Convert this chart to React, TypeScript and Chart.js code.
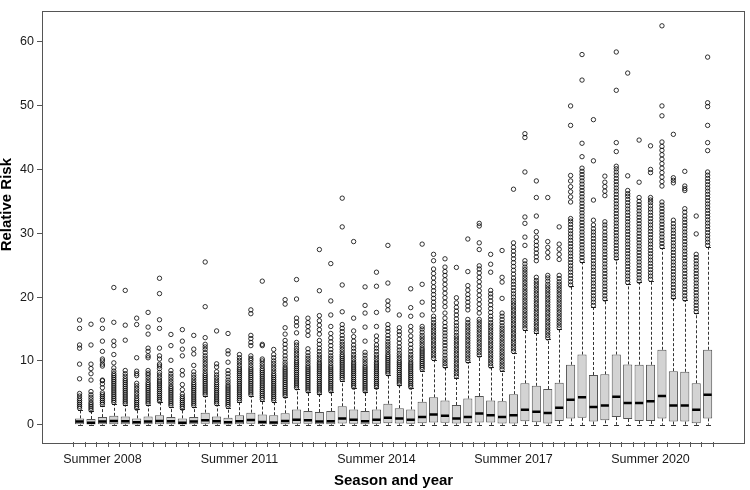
import React, { useEffect, useRef } from "react";
import { Chart, registerables } from "chart.js";

Chart.register(...registerables);

const seasons = ["Winter", "Spring", "Summer", "Autumn"];
const years = [2008, 2009, 2010, 2011, 2012, 2013, 2014, 2015, 2016, 2017, 2018, 2019, 2020, 2021];
const categories: string[] = years.flatMap((yr) => seasons.map((s) => `${s} ${yr}`));
const tickLabels = ["Summer 2008", "Summer 2011", "Summer 2014", "Summer 2017", "Summer 2020"];
const yTicks = [0, 10, 20, 30, 40, 50, 60];
const xTitle = "Season and year";
const yTitle = "Relative Risk";

const lowerQuartile = [
  0.1, 0.05, 0.1, 0.1, 0.1, 0.05, 0.1, 0.1, 0.1, 0.05, 0.1, 0.15, 0.1, 0.05, 0.1, 0.15,
  0.1, 0.05, 0.1, 0.15, 0.15, 0.1, 0.1, 0.2, 0.15, 0.1, 0.15, 0.25, 0.2, 0.15, 0.25, 0.35,
  0.3, 0.2, 0.25, 0.35, 0.35, 0.2, 0.2, 0.55, 0.4, 0.2, 0.6, 1.0, 1.1, 0.5, 0.7, 1.2,
  0.9, 0.6, 0.6, 1.0, 0.5, 0.5, 0.25, 1.0,
];
const median = [
  0.5, 0.3, 0.5, 0.6, 0.55, 0.4, 0.5, 0.6, 0.55, 0.3, 0.5, 0.7, 0.55, 0.4, 0.55, 0.75,
  0.45, 0.35, 0.6, 0.8, 0.7, 0.5, 0.55, 0.97, 0.8, 0.55, 0.8, 1.1, 1.0, 0.8, 1.2, 1.6,
  1.4, 1.0, 1.2, 1.75, 1.5, 1.2, 1.5, 2.35, 2.05, 1.85, 2.65, 3.9, 4.3, 2.8, 3.0, 4.4,
  3.4, 3.4, 3.7, 4.5, 3.0, 3.0, 2.35, 4.7,
];
const upperQuartile = [
  1.0, 0.9, 1.2, 1.4, 1.3, 1.0, 1.3, 1.5, 1.2, 1.0, 1.2, 1.9, 1.3, 1.1, 1.5, 1.9,
  1.6, 1.5, 1.8, 2.4, 2.15, 2.0, 2.15, 2.9, 2.4, 2.15, 2.4, 3.3, 2.6, 2.4, 3.6, 4.3,
  3.8, 3.1, 4.1, 4.5, 3.8, 3.7, 4.8, 6.5, 6.1, 5.6, 6.6, 9.4, 11.0, 7.8, 7.9, 11.0,
  9.45, 9.4, 9.4, 11.75, 8.4, 8.3, 6.5, 11.75,
];
const whiskerLow = [
  0, 0, 0, 0, 0, 0, 0, 0, 0, 0, 0, 0, 0, 0, 0, 0,
  0, 0, 0, 0, 0, 0, 0, 0, 0, 0, 0, 0, 0, 0, 0, 0,
  0, 0, 0, 0, 0, 0, 0, 0, 0, 0, 0, 0, 0, 0, 0, 0,
  0, 0, 0, 0, 0, 0, 0, 0,
];
const whiskerHigh = [
  2.3, 2.1, 3.0, 3.3, 3.1, 2.4, 3.1, 3.5, 2.8, 2.4, 2.8, 4.5, 3.1, 2.7, 3.6, 4.5,
  3.8, 3.6, 4.3, 5.6, 5.1, 4.8, 5.1, 6.9, 5.7, 5.1, 5.7, 7.8, 6.2, 5.7, 8.5, 10.2,
  9.0, 7.4, 9.8, 10.7, 9.0, 8.5, 11.3, 14.9, 14.4, 13.4, 15.0, 21.7, 25.5, 18.5, 19.5, 25.9,
  22.1, 22.35, 22.6, 27.7, 19.8, 19.5, 17.5, 27.9,
];

const outliers: number[][] = [
  [2.6, 2.9, 3.2, 3.5, 3.8, 4.1, 4.5, 4.9, 7.2, 9.5, 12.0, 12.5, 15.1, 16.4],
  [2.3, 2.6, 2.9, 3.2, 3.5, 3.9, 4.3, 4.7, 5.2, 7.0, 8.0, 8.8, 9.5, 12.5, 15.75],
  [3.2, 3.5, 3.8, 4.1, 4.4, 4.7, 5.0, 5.8, 6.4, 6.9, 7.0, 9.2, 9.5, 10.0, 10.3, 11.5, 13.1, 15.1, 16.4],
  [3.5, 3.8, 4.1, 4.4, 4.7, 5.0, 5.3, 5.6, 5.9, 6.2, 6.5, 6.8, 7.1, 7.4, 7.7, 8.0, 8.4, 8.9, 9.7, 11.0, 12.4, 13.1, 16.05, 21.5],
  [3.3, 3.6, 3.9, 4.2, 4.5, 4.8, 5.1, 5.4, 5.7, 6.0, 6.3, 6.6, 6.9, 7.2, 7.6, 8.0, 8.5, 13.25, 15.6, 21.05],
  [2.6, 2.9, 3.2, 3.5, 3.8, 4.1, 4.5, 4.9, 5.3, 5.7, 6.1, 6.5, 7.7, 8.0, 8.4, 10.5, 15.7, 16.7],
  [3.3, 3.6, 3.9, 4.2, 4.5, 4.8, 5.1, 5.4, 5.7, 6.0, 6.3, 6.6, 7.0, 7.4, 7.8, 8.1, 8.5, 10.5, 10.8, 11.5, 12.0, 14.2, 15.3, 17.6],
  [3.7, 4.0, 4.3, 4.6, 4.9, 5.2, 5.5, 5.8, 6.1, 6.4, 6.7, 7.0, 7.4, 7.8, 8.2, 8.8, 9.2, 9.5, 10.3, 10.8, 12.0, 15.1, 16.45, 20.55, 22.95],
  [3.0, 3.3, 3.6, 3.9, 4.2, 4.5, 4.8, 5.1, 5.4, 5.7, 6.0, 6.4, 6.8, 7.2, 7.6, 8.0, 8.5, 10.1, 12.4, 14.15],
  [2.6, 2.9, 3.2, 3.5, 3.8, 4.1, 4.4, 4.8, 5.5, 6.3, 7.8, 8.5, 10.8, 11.85, 13.1, 14.9],
  [3.0, 3.3, 3.6, 3.9, 4.2, 4.5, 4.8, 5.1, 5.4, 5.7, 6.0, 6.3, 6.6, 7.0, 7.4, 7.8, 8.3, 9.3, 11.1, 11.85, 14.0],
  [4.7, 5.0, 5.3, 5.6, 5.9, 6.2, 6.5, 6.8, 7.1, 7.4, 7.7, 8.0, 8.4, 8.8, 9.2, 9.6, 10.0, 10.4, 10.8, 11.3, 11.8, 12.2, 12.6, 13.65, 18.5, 25.5],
  [3.3, 3.6, 3.9, 4.2, 4.5, 4.8, 5.1, 5.4, 5.7, 6.0, 6.3, 6.6, 7.0, 7.4, 7.8, 8.3, 9.05, 9.55, 14.7],
  [2.9, 3.2, 3.5, 3.8, 4.1, 4.4, 4.7, 5.0, 5.3, 5.6, 5.9, 6.2, 6.6, 7.0, 7.5, 8.0, 8.5, 9.8, 11.1, 11.6, 14.3],
  [3.8, 4.1, 4.4, 4.7, 5.0, 5.3, 5.6, 5.9, 6.2, 6.5, 6.8, 7.1, 7.4, 7.7, 8.0, 8.3, 8.6, 8.9, 9.3, 9.7, 10.1, 10.5, 11.0],
  [4.7, 5.0, 5.3, 5.6, 5.9, 6.2, 6.5, 6.8, 7.1, 7.4, 7.7, 8.0, 8.3, 8.6, 8.9, 9.3, 9.7, 10.1, 10.4, 10.8, 12.4, 12.9, 13.5, 14.0, 17.4, 18.0],
  [4.0, 4.3, 4.6, 4.9, 5.2, 5.5, 5.8, 6.1, 6.4, 6.7, 7.0, 7.3, 7.6, 7.9, 8.2, 8.5, 8.8, 9.2, 9.6, 10.0, 10.3, 12.4, 12.6, 22.5],
  [3.8, 4.1, 4.4, 4.7, 5.0, 5.3, 5.6, 5.9, 6.2, 6.5, 6.8, 7.1, 7.4, 7.7, 8.0, 8.4, 8.8, 9.2, 9.6, 10.0, 10.5, 11.0, 11.8],
  [4.5, 4.8, 5.1, 5.4, 5.7, 6.0, 6.3, 6.6, 6.9, 7.2, 7.5, 7.8, 8.1, 8.4, 8.7, 9.0, 9.4, 9.8, 10.3, 10.8, 11.4, 12.0, 12.6, 13.2, 14.2, 15.2, 18.9, 19.6],
  [5.8, 6.1, 6.4, 6.7, 7.0, 7.3, 7.6, 7.9, 8.2, 8.5, 8.8, 9.1, 9.4, 9.7, 10.0, 10.4, 10.8, 11.2, 11.6, 12.0, 12.5, 12.9, 14.4, 15.5, 16.1, 16.7, 19.7, 22.75],
  [5.3, 5.6, 5.9, 6.2, 6.5, 6.8, 7.1, 7.4, 7.7, 8.0, 8.3, 8.6, 8.9, 9.2, 9.6, 10.0, 10.4, 10.8, 11.3, 11.9, 14.0, 14.7, 15.4, 16.0, 16.7],
  [5.0, 5.3, 5.6, 5.9, 6.2, 6.5, 6.8, 7.1, 7.4, 7.7, 8.0, 8.3, 8.6, 8.9, 9.2, 9.5, 9.8, 10.2, 10.6, 11.0, 11.5, 12.0, 12.6, 13.2, 14.2, 14.9, 15.6, 16.3, 17.1, 21.0, 27.45],
  [5.3, 5.6, 5.9, 6.2, 6.5, 6.8, 7.1, 7.4, 7.7, 8.0, 8.3, 8.6, 8.9, 9.2, 9.6, 10.0, 10.4, 10.8, 11.3, 11.8, 12.4, 13.0, 13.6, 14.3, 15.4, 17.2, 19.4, 25.25],
  [7.1, 7.4, 7.7, 8.0, 8.3, 8.6, 8.9, 9.2, 9.5, 9.8, 10.1, 10.4, 10.7, 11.0, 11.4, 11.8, 12.2, 12.6, 13.0, 13.5, 14.0, 14.6, 15.1, 15.7, 17.7, 21.9, 31.0, 35.5],
  [5.9, 6.2, 6.5, 6.8, 7.1, 7.4, 7.7, 8.0, 8.3, 8.6, 8.9, 9.2, 9.5, 9.8, 10.2, 10.6, 11.0, 11.5, 12.0, 12.5, 13.1, 13.8, 14.7, 16.7, 28.7],
  [5.3, 5.6, 5.9, 6.2, 6.5, 6.8, 7.1, 7.4, 7.7, 8.0, 8.3, 8.6, 8.9, 9.2, 9.6, 10.0, 10.4, 10.9, 11.35, 13.1, 15.3, 17.5, 18.7, 21.6],
  [5.9, 6.2, 6.5, 6.8, 7.1, 7.4, 7.7, 8.0, 8.3, 8.6, 8.9, 9.2, 9.5, 9.8, 10.2, 10.6, 11.0, 11.5, 12.0, 12.5, 13.2, 13.9, 15.4, 17.6, 21.7, 23.9],
  [8.0, 8.3, 8.6, 8.9, 9.2, 9.5, 9.8, 10.1, 10.4, 10.7, 11.0, 11.4, 11.8, 12.2, 12.6, 13.0, 13.5, 14.0, 14.6, 15.1, 15.7, 18.0, 18.7, 19.4, 22.2, 28.1],
  [6.4, 6.7, 7.0, 7.3, 7.6, 7.9, 8.2, 8.5, 8.8, 9.1, 9.4, 9.7, 10.0, 10.4, 10.8, 11.2, 11.7, 12.2, 12.8, 13.4, 14.1, 14.6, 15.2, 17.2],
  [5.9, 6.2, 6.5, 6.8, 7.1, 7.4, 7.7, 8.0, 8.3, 8.6, 8.9, 9.2, 9.5, 9.8, 10.2, 10.6, 11.0, 11.5, 12.0, 12.6, 13.2, 13.9, 14.7, 15.4, 17.0, 18.35, 21.3],
  [8.7, 9.0, 9.3, 9.6, 9.9, 10.2, 10.5, 10.8, 11.1, 11.4, 11.7, 12.0, 12.4, 12.8, 13.2, 13.6, 14.0, 14.5, 15.0, 15.4, 17.2, 19.2, 22.0, 28.3],
  [10.4, 10.8, 11.2, 11.6, 12.0, 12.4, 12.8, 13.2, 13.6, 14.0, 14.4, 14.8, 15.2, 15.6, 16.0, 16.5, 17.0, 18.0, 18.6, 19.2, 19.8, 20.4, 21.0, 21.6, 22.3, 23.0, 23.7, 24.4, 25.7, 26.7],
  [9.2, 9.6, 10.0, 10.4, 10.9, 11.4, 11.9, 12.4, 12.9, 13.4, 13.9, 14.4, 14.9, 15.4, 16.0, 16.7, 17.5, 18.5, 19.2, 19.9, 20.6, 21.3, 22.0, 22.7, 23.4, 24.0, 24.7, 26.0],
  [7.6, 8.0, 8.4, 8.8, 9.2, 9.6, 10.0, 10.4, 10.8, 11.2, 11.6, 12.0, 12.4, 12.8, 13.2, 13.6, 14.0, 14.5, 15.0, 15.5, 16.0, 16.6, 17.2, 17.8, 18.4, 19.1, 19.9, 24.65],
  [10.0, 10.4, 10.8, 11.2, 11.6, 12.0, 12.4, 12.8, 13.2, 13.6, 14.0, 14.4, 14.8, 15.2, 15.6, 16.0, 16.5, 18.0, 18.6, 19.2, 19.8, 20.4, 21.1, 21.8, 24.0, 29.1],
  [10.9, 11.3, 11.7, 12.1, 12.5, 12.9, 13.3, 13.7, 14.1, 14.5, 14.9, 15.3, 15.7, 16.1, 16.5, 17.5, 18.2, 18.9, 19.6, 20.3, 21.0, 21.7, 22.4, 23.1, 23.8, 24.4, 24.9, 27.45, 28.5, 31.15, 31.55],
  [9.2, 9.6, 10.0, 10.4, 10.8, 11.2, 11.6, 12.0, 12.4, 12.8, 13.2, 13.6, 14.0, 14.4, 14.8, 15.2, 15.6, 16.0, 16.5, 17.0, 17.6, 18.2, 18.8, 19.4, 20.0, 20.5, 21.05, 23.9, 25.15, 26.7],
  [8.7, 9.1, 9.5, 9.9, 10.3, 10.7, 11.1, 11.5, 11.9, 12.3, 12.7, 13.1, 13.5, 13.9, 14.3, 14.7, 15.1, 15.5, 16.0, 16.5, 17.0, 17.5, 19.8, 22.35, 23.1, 27.3],
  [11.5, 11.9, 12.3, 12.7, 13.1, 13.5, 13.9, 14.3, 14.7, 15.1, 15.5, 15.9, 16.3, 16.7, 17.1, 17.5, 17.9, 18.3, 18.7, 19.1, 19.5, 20.0, 20.5, 21.0, 21.5, 22.0, 22.5, 23.0, 23.6, 24.2, 24.8, 25.4, 26.0, 26.6, 27.2, 27.8, 28.5, 36.9],
  [15.1, 15.5, 15.9, 16.3, 16.7, 17.1, 17.5, 17.9, 18.3, 18.7, 19.1, 19.5, 19.9, 20.3, 20.7, 21.1, 21.5, 21.9, 22.3, 22.7, 23.1, 23.5, 23.9, 24.3, 24.7, 25.2, 25.7, 28.1, 29.4, 31.55, 32.55, 39.6, 45.0, 45.6],
  [14.6, 15.0, 15.4, 15.8, 16.2, 16.6, 17.0, 17.4, 17.8, 18.2, 18.6, 19.0, 19.4, 19.8, 20.2, 20.6, 21.0, 21.4, 21.8, 22.2, 22.6, 23.1, 25.7, 26.3, 26.9, 27.5, 28.1, 28.7, 29.4, 30.25, 32.7, 35.6, 38.2],
  [13.6, 14.0, 14.4, 14.8, 15.2, 15.6, 16.0, 16.4, 16.8, 17.2, 17.6, 18.0, 18.4, 18.8, 19.2, 19.6, 20.0, 20.4, 20.8, 21.2, 21.6, 22.0, 22.5, 23.0, 23.4, 26.2, 27.0, 27.8, 28.7, 35.6],
  [15.2, 15.6, 16.0, 16.4, 16.8, 17.2, 17.6, 18.0, 18.4, 18.8, 19.2, 19.6, 20.0, 20.4, 20.8, 21.2, 21.6, 22.0, 22.4, 22.9, 23.4, 25.9, 26.7, 27.5, 28.3, 31.0],
  [21.9, 22.4, 22.9, 23.4, 23.9, 24.4, 24.9, 25.4, 25.9, 26.4, 26.9, 27.4, 27.9, 28.4, 28.9, 29.4, 29.9, 30.4, 30.9, 31.4, 31.9, 32.3, 34.9, 35.7, 36.5, 37.3, 38.2, 39.05, 46.9, 49.95],
  [25.7, 26.2, 26.7, 27.2, 27.7, 28.2, 28.7, 29.2, 29.7, 30.2, 30.7, 31.2, 31.7, 32.2, 32.7, 33.2, 33.7, 34.2, 34.7, 35.2, 35.7, 36.2, 36.7, 37.2, 37.7, 38.2, 38.7, 39.2, 39.7, 40.2, 42.0, 44.1, 54.0, 58.0],
  [18.7, 19.2, 19.7, 20.2, 20.7, 21.2, 21.7, 22.2, 22.7, 23.2, 23.7, 24.2, 24.7, 25.2, 25.7, 26.2, 26.7, 27.2, 27.7, 28.2, 28.7, 29.2, 29.7, 30.2, 30.7, 31.3, 32.05, 35.2, 41.35, 47.8],
  [19.7, 20.2, 20.7, 21.2, 21.7, 22.2, 22.7, 23.2, 23.7, 24.2, 24.7, 25.2, 25.7, 26.2, 26.7, 27.2, 27.7, 28.2, 28.7, 29.2, 29.7, 30.2, 30.8, 31.3, 31.8, 35.9, 36.6, 37.3, 38.0, 38.95],
  [26.1, 26.6, 27.1, 27.6, 28.1, 28.6, 29.1, 29.6, 30.1, 30.6, 31.1, 31.6, 32.1, 32.6, 33.1, 33.6, 34.1, 34.6, 35.1, 35.6, 36.1, 36.6, 37.1, 37.6, 38.1, 38.6, 39.1, 39.6, 40.1, 40.5, 42.8, 44.2, 52.4, 58.4],
  [22.3, 22.8, 23.3, 23.8, 24.3, 24.8, 25.3, 25.8, 26.3, 26.8, 27.3, 27.8, 28.3, 28.8, 29.3, 29.8, 30.3, 30.8, 31.3, 31.8, 32.3, 32.8, 33.3, 33.8, 34.3, 34.8, 35.3, 35.8, 36.2, 36.7, 39.0, 55.1],
  [22.5, 23.0, 23.5, 24.0, 24.5, 25.0, 25.5, 26.0, 26.5, 27.0, 27.5, 28.0, 28.5, 29.0, 29.5, 30.0, 30.5, 31.0, 31.5, 32.0, 32.5, 33.0, 33.5, 34.0, 34.5, 35.0, 35.6, 38.0, 44.6],
  [22.8, 23.3, 23.8, 24.3, 24.8, 25.3, 25.8, 26.3, 26.8, 27.3, 27.8, 28.3, 28.8, 29.3, 29.8, 30.3, 30.8, 31.3, 31.8, 32.3, 32.8, 33.3, 33.8, 34.3, 34.8, 35.2, 35.6, 39.5, 40.0, 43.7],
  [27.9, 28.4, 28.9, 29.4, 29.9, 30.4, 30.9, 31.4, 31.9, 32.4, 32.9, 33.4, 33.9, 34.4, 34.9, 37.4, 38.1, 38.8, 39.5, 40.2, 40.9, 41.6, 42.3, 43.0, 43.6, 44.3, 48.4, 49.95, 62.5],
  [20.0, 20.5, 21.0, 21.5, 22.0, 22.5, 23.0, 23.5, 24.0, 24.5, 25.0, 25.5, 26.0, 26.5, 27.0, 27.5, 28.0, 28.5, 29.0, 29.5, 30.0, 30.5, 31.0, 31.5, 32.05, 37.9, 38.3, 38.7, 45.5],
  [19.7, 20.2, 20.7, 21.2, 21.7, 22.2, 22.7, 23.2, 23.7, 24.2, 24.7, 25.2, 25.7, 26.2, 26.7, 27.2, 27.7, 28.2, 28.7, 29.2, 29.7, 30.2, 30.7, 31.2, 31.7, 32.2, 32.7, 33.3, 33.85, 36.7, 37.0, 37.4, 39.7],
  [17.7, 18.2, 18.7, 19.2, 19.7, 20.2, 20.7, 21.2, 21.7, 22.2, 22.7, 23.2, 23.7, 24.2, 24.7, 25.2, 25.7, 26.2, 26.7, 29.9, 32.7],
  [28.1, 28.6, 29.1, 29.6, 30.1, 30.6, 31.1, 31.6, 32.1, 32.6, 33.1, 33.6, 34.1, 34.6, 35.1, 35.6, 36.1, 36.6, 37.1, 37.6, 38.1, 38.6, 39.1, 39.6, 42.95, 44.2, 46.9, 49.85, 50.45, 57.6],
];

const FONT = "'Liberation Sans', Arial, Helvetica, sans-serif";
const AXIS_COLOR = "#555555";

const boxPartsPlugin = {
  id: "boxParts",
  beforeDatasetsDraw(chart: any) {
    const { ctx, scales } = chart;
    const x = scales.x;
    const y = scales.y;
    ctx.save();
    ctx.strokeStyle = "#333333";
    ctx.lineWidth = 1;
    ctx.setLineDash([3, 2]);
    ctx.beginPath();
    categories.forEach((_, i) => {
      const px = Math.round(x.getPixelForValue(i)) + 0.5;
      ctx.moveTo(px, y.getPixelForValue(upperQuartile[i]));
      ctx.lineTo(px, y.getPixelForValue(whiskerHigh[i]));
      ctx.moveTo(px, y.getPixelForValue(lowerQuartile[i]));
      ctx.lineTo(px, y.getPixelForValue(whiskerLow[i]));
    });
    ctx.stroke();
    ctx.setLineDash([]);
    ctx.beginPath();
    categories.forEach((_, i) => {
      const px = Math.round(x.getPixelForValue(i)) + 0.5;
      [whiskerHigh[i], whiskerLow[i]].forEach((v) => {
        const py = Math.round(y.getPixelForValue(v)) + 0.5;
        ctx.moveTo(px - 2.5, py);
        ctx.lineTo(px + 2.5, py);
      });
    });
    ctx.stroke();
    ctx.restore();
  },
  afterDatasetsDraw(chart: any) {
    const { ctx, scales } = chart;
    const y = scales.y;
    const meta = chart.getDatasetMeta(0);
    ctx.save();
    ctx.strokeStyle = "#000000";
    ctx.lineWidth = 2.5;
    ctx.beginPath();
    meta.data.forEach((el: any, i: number) => {
      const py = y.getPixelForValue(median[i]);
      ctx.moveTo(el.x - el.width / 2 + 0.5, py);
      ctx.lineTo(el.x + el.width / 2 - 0.5, py);
    });
    ctx.stroke();
    ctx.restore();
  },
  afterDraw(chart: any) {
    const { ctx, chartArea } = chart;
    ctx.save();
    ctx.strokeStyle = AXIS_COLOR;
    ctx.lineWidth = 1;
    ctx.strokeRect(
      Math.round(chartArea.left) + 0.5,
      Math.round(chartArea.top) + 0.5,
      Math.round(chartArea.right - chartArea.left) - 1,
      Math.round(chartArea.bottom - chartArea.top)
    );
    // y-axis title, placed slightly above the plot centre as in the reference
    ctx.translate(7, chartArea.top + (chartArea.bottom - chartArea.top) * 0.45);
    ctx.rotate(-Math.PI / 2);
    ctx.fillStyle = "#000000";
    ctx.font = `bold 15px ${FONT}`;
    ctx.textAlign = "center";
    ctx.textBaseline = "middle";
    ctx.fillText(yTitle, 0, 0);
    ctx.restore();
  },
};

export default function App() {
  const canvasRef = useRef<HTMLCanvasElement | null>(null);

  useEffect(() => {
    document.body.style.margin = "0";
    const canvas = canvasRef.current;
    if (!canvas) return;

    const boxData = categories.map((_, i) => ({ x: i, y: [lowerQuartile[i], upperQuartile[i]] }));
    const outlierData = outliers.flatMap((vals, i) => vals.map((v) => ({ x: i, y: v })));

    const chart = new Chart(canvas, {
      type: "bar",
      data: {
        datasets: [
          {
            type: "bar",
            label: "Boxes",
            data: boxData as any,
            backgroundColor: "#d3d3d3",
            borderColor: "#555555",
            borderWidth: 1,
            borderSkipped: false,
            barPercentage: 0.8,
            categoryPercentage: 1,
          },
          {
            type: "scatter",
            label: "Outliers",
            data: outlierData as any,
            pointStyle: "circle",
            pointRadius: 2.2,
            pointBorderWidth: 0.8,
            pointBorderColor: "#000000",
            pointBackgroundColor: "rgba(0,0,0,0)",
            showLine: false,
          } as any,
        ],
      },
      options: {
        responsive: false,
        animation: false,
        devicePixelRatio: 1,
        events: [],
        layout: { padding: { top: 1, right: 1, left: 0, bottom: 0 } },
        plugins: {
          legend: { display: false },
          tooltip: { enabled: false },
        },
        scales: {
          x: {
            type: "linear",
            min: -2.74,
            max: 57.74,
            afterBuildTicks: (scale: any) => {
              scale.ticks = categories.map((_, i) => ({ value: i }));
            },
            afterFit: (scale: any) => {
              scale.height = 48;
            },
            ticks: {
              autoSkip: false,
              maxRotation: 0,
              minRotation: 0,
              padding: 5,
              color: "#1a1a1a",
              font: { family: FONT, size: 12.5 },
              callback: (value: any) => {
                const label = categories[Number(value)];
                return tickLabels.includes(label) ? label : "";
              },
            },
            grid: {
              drawOnChartArea: false,
              drawTicks: true,
              tickLength: 5,
              color: AXIS_COLOR,
            },
            border: { display: false },
            title: {
              display: true,
              text: xTitle,
              color: "#000000",
              font: { family: FONT, size: 15, weight: "bold" },
              padding: { top: 0, bottom: 0 },
            },
          },
          y: {
            type: "linear",
            min: -2.7,
            max: 64.9,
            afterBuildTicks: (scale: any) => {
              scale.ticks = yTicks.map((v) => ({ value: v }));
            },
            afterFit: (scale: any) => {
              scale.width = 42;
            },
            ticks: {
              padding: 3,
              color: "#1a1a1a",
              font: { family: FONT, size: 12.5 },
            },
            grid: {
              drawOnChartArea: false,
              drawTicks: true,
              tickLength: 5,
              color: AXIS_COLOR,
            },
            border: { display: false },
            title: { display: false },
          },
        },
      } as any,
      plugins: [boxPartsPlugin],
    });

    return () => {
      chart.destroy();
    };
  }, []);

  return (
    <div style={{ width: 750, height: 490 }}>
      <canvas ref={canvasRef} width={750} height={490} style={{ display: "block" }} />
    </div>
  );
}
